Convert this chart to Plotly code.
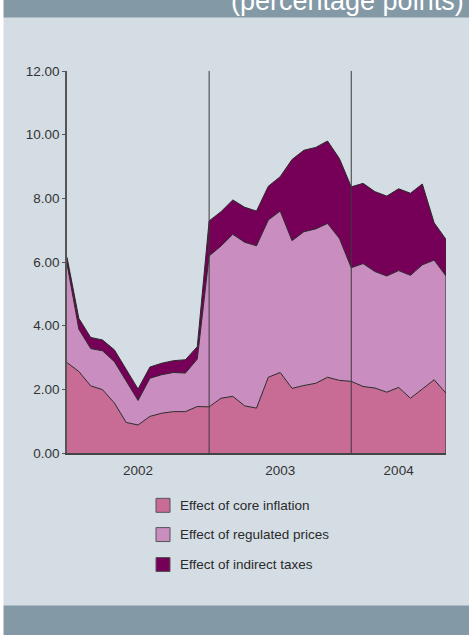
import plotly.graph_objects as go

# Monthly data, Jan 2002 .. Sep 2004 (percentage points)
months = list(range(33))
core_inflation = [2.84, 2.56, 2.11, 1.99, 1.57, 0.96, 0.88, 1.15, 1.25, 1.30, 1.30, 1.46,
                  1.45, 1.72, 1.78, 1.48, 1.41, 2.38, 2.53, 2.03, 2.12, 2.19, 2.38, 2.28,
                  2.25, 2.09, 2.04, 1.91, 2.06, 1.72, 2.01, 2.30, 1.88]
regulated_prices = [3.11, 1.33, 1.17, 1.22, 1.30, 1.29, 0.77, 1.20, 1.21, 1.23, 1.21, 1.49,
                    4.74, 4.78, 5.09, 5.14, 5.10, 4.94, 5.07, 4.64, 4.83, 4.85, 4.83, 4.46,
                    3.57, 3.86, 3.66, 3.65, 3.67, 3.86, 3.90, 3.76, 3.68]
indirect_taxes = [0.20, 0.34, 0.35, 0.34, 0.37, 0.36, 0.36, 0.35, 0.36, 0.37, 0.42, 0.39,
                  1.10, 1.08, 1.08, 1.10, 1.09, 1.06, 1.08, 2.55, 2.56, 2.56, 2.59, 2.51,
                  2.54, 2.52, 2.51, 2.51, 2.57, 2.58, 2.54, 1.17, 1.15]
year_tick_pos = [6, 18, 28]
year_labels = ["2002", "2003", "2004"]
year_breaks = [12, 24]
series_names = ["Effect of core inflation", "Effect of regulated prices", "Effect of indirect taxes"]
series_colors = ["#c96c95", "#c98dbf", "#760058"]

W, H = 469, 635
L, R, T, B = 67, 23, 70.7, 181.7
PW, PH = W - L - R, H - T - B

def px(x):
    return (x - L) / PW

def py(y):
    return (H - B - y) / PH

fig = go.Figure()
for name, vals, col in zip(series_names, [core_inflation, regulated_prices, indirect_taxes], series_colors):
    fig.add_trace(go.Scatter(x=months, y=vals, name=name, mode="lines", stackgroup="one",
                             fillcolor=col, line=dict(color="#2a2a2a", width=1),
                             showlegend=False))

total_last = core_inflation[-1] + regulated_prices[-1] + indirect_taxes[-1]
shapes = []
# right closing edge of the area
shapes.append(dict(type="line", xref="x", yref="y", x0=months[-1], x1=months[-1], y0=0, y1=total_last,
                   line=dict(color="#2a2a2a", width=1), layer="above"))
for xb in year_breaks:
    shapes.append(dict(type="line", xref="x", yref="y", x0=xb, x1=xb, y0=0, y1=12,
                       line=dict(color="#3a3a3a", width=1), layer="above"))
# top and bottom banners, left white strip
shapes.append(dict(type="rect", xref="paper", yref="paper", x0=px(0), x1=px(W + 5), y0=py(17), y1=py(-5),
                   fillcolor="#8499a6", line=dict(width=0), layer="below"))
shapes.append(dict(type="rect", xref="paper", yref="paper", x0=px(0), x1=px(W + 5), y0=py(H + 5), y1=py(606),
                   fillcolor="#8499a6", line=dict(width=0), layer="below"))
shapes.append(dict(type="rect", xref="paper", yref="paper", x0=px(-2), x1=px(3.5), y0=py(H + 5), y1=py(-5),
                   fillcolor="#ffffff", line=dict(width=0), layer="above"))

annotations = []
annotations.append(dict(xref="paper", yref="paper", x=px(466), y=py(18), xanchor="right", yanchor="bottom",
                        text="(percentage points)", showarrow=False,
                        font=dict(family="Liberation Sans, Arial, sans-serif", size=27, color="#ffffff")))
# legend (manual)
legend_rows = [505.7, 535.0, 565.0]
for name, col, yc in zip(series_names, series_colors, legend_rows):
    shapes.append(dict(type="rect", xref="paper", yref="paper", x0=px(156), x1=px(170),
                       y0=py(yc + 7), y1=py(yc - 7), fillcolor=col,
                       line=dict(color="#555555", width=1)))
    annotations.append(dict(xref="paper", yref="paper", x=px(178), y=py(yc), xanchor="left", yanchor="middle",
                            text=name, showarrow=False,
                            font=dict(family="Liberation Sans, Arial, sans-serif", size=13.5, color="#2a2a2a")))

fig.update_layout(
    width=W, height=H,
    margin=dict(l=L, r=R, t=T, b=B, pad=0),
    paper_bgcolor="#d4dde4", plot_bgcolor="#d4dde4",
    font=dict(family="Liberation Sans, Arial, sans-serif", size=13, color="#333333"),
    showlegend=False,
    shapes=shapes, annotations=annotations,
    xaxis=dict(range=[0, 32], tickvals=year_tick_pos, ticktext=year_labels, ticks="",
               showgrid=False, zeroline=False, showline=True, linecolor="#444444", linewidth=1.5,
               tickfont=dict(size=13.5, color="#333333"), ticklabelstandoff=4),
    yaxis=dict(range=[0, 12], tickvals=[0, 2, 4, 6, 8, 10, 12], tickformat=".2f", ticks="outside",
               ticklen=3, tickcolor="#555555", showgrid=False, zeroline=False, showline=True,
               linecolor="#555555", linewidth=1.5, tickfont=dict(size=13.5, color="#333333")),
)

fig.write_html("out.html", config={"displayModeBar": False},
               post_script="document.body.style.margin='0';document.body.style.overflow='hidden';")
